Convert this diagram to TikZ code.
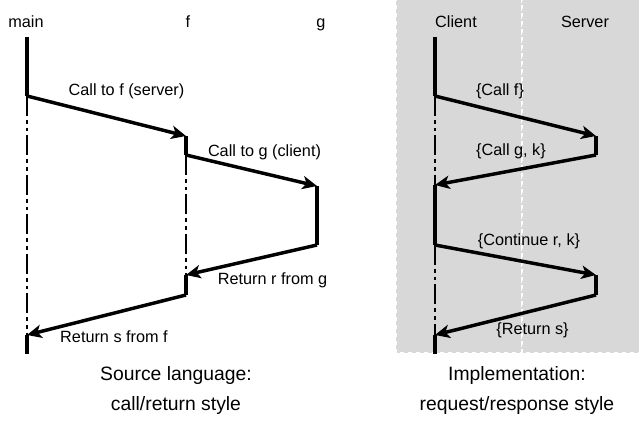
\documentclass[tikz,border=0pt]{standalone}
\usepackage{fontspec}
\setmainfont{Liberation Sans}
\usetikzlibrary{arrows.meta}
\definecolor{panelgray}{RGB}{216,216,216}
\begin{document}
\begin{tikzpicture}[x=0.75pt,y=-0.75pt,
  life/.style={line width=2.6pt},
  msg/.style={line width=2.6pt,-{Stealth[length=11pt,width=10pt,inset=3pt]}},
  idle/.style={line width=1.3pt,dash pattern=on 15pt off 3pt on 2.8pt off 3pt on 2.8pt off 3pt},
  lbl/.style={anchor=base,inner sep=0pt,font=\fontsize{12.2}{14}\selectfont},
  captiontext/.style={anchor=base,inner sep=0pt,font=\fontsize{14.5}{17}\selectfont},
  panel/.style={fill=panelgray,draw=white,dashed,line width=1pt}]
\useasboundingbox (0,0) rectangle (639,423);
\fill[white] (0,0) rectangle (639,423);
% right panel backgrounds
\path[panel] (396,-3) rectangle (522,353);
\path[panel] (522,-3) rectangle (642,353);

% ---- left: source language ----
\coordinate (m0) at (27,37);
\coordinate (m1) at (27,96);
\coordinate (f1) at (186,136);
\coordinate (f2) at (186,155);
\coordinate (g1) at (317,186);
\coordinate (g2) at (317,245);
\coordinate (f3) at (186,275);
\coordinate (f4) at (186,295);
\coordinate (m2) at (27,335);
\coordinate (m3) at (27,354);

\node[lbl] (lmain) at (26,28) {main};
\node[lbl] (lf) at (188,28) {f};
\node[lbl] (lg) at (321,28) {g};

\draw[idle] (m1) -- (m2);
\draw[idle] (f2) -- (f3);
\draw[life] (m0) -- (m1);
\draw[msg] (m1) -- (f1);
\draw[life] (f1) -- (f2);
\draw[msg] (f2) -- (g1);
\draw[life] (g1) -- (g2);
\draw[msg] (g2) -- (f3);
\draw[life] (f3) -- (f4);
\draw[msg] (f4) -- (m2);
\draw[life] (m2) -- (m3);

\node[lbl] (t1) at (126.5,96) {Call to f (server)};
\node[lbl] (t2) at (264.5,157) {Call to g (client)};
\node[lbl] (t3) at (272.5,285) {Return r from g};
\node[lbl] (t4) at (114,343) {Return s from f};

\node[captiontext] (c1l) at (176,381) {Source language:};
\node[captiontext] (c2l) at (176,411) {call/return style};

% ---- right: implementation ----
\coordinate (k0) at (435,37);
\coordinate (k1) at (435,96);
\coordinate (s1) at (596,136);
\coordinate (s2) at (596,155);
\coordinate (k2) at (435,185);
\coordinate (k3) at (435,245);
\coordinate (s3) at (596,275);
\coordinate (s4) at (596,295);
\coordinate (k4) at (435,335);
\coordinate (k5) at (435,354);

\node[lbl] (lclient) at (456,28) {Client};
\node[lbl] (lserver) at (585,28) {Server};

\draw[idle] (k1) -- (k2);
\draw[idle] (k3) -- (k4);
\draw[life] (k0) -- (k1);
\draw[msg] (k1) -- (s1);
\draw[life] (s1) -- (s2);
\draw[msg] (s2) -- (k2);
\draw[life] (k2) -- (k3);
\draw[msg] (k3) -- (s3);
\draw[life] (s3) -- (s4);
\draw[msg] (s4) -- (k4);
\draw[life] (k4) -- (k5);

\node[lbl] (r1) at (500,96) {\{Call f\}};
\node[lbl] (r2) at (511,156) {\{Call g, k\}};
\node[lbl] (r3) at (529,246) {\{Continue r, k\}};
\node[lbl] (r4) at (532.5,335) {\{Return s\}};

\node[captiontext] (c1r) at (517,381) {Implementation:};
\node[captiontext] (c2r) at (517,411) {request/response style};
\end{tikzpicture}
\end{document}
